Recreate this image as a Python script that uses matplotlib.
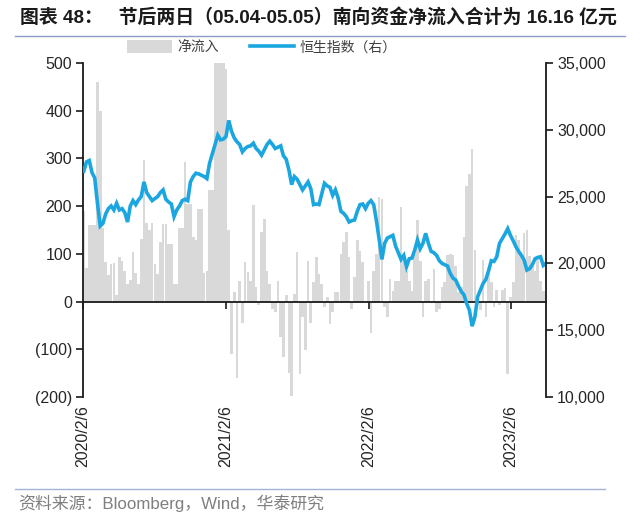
import matplotlib
matplotlib.use("Agg")
import matplotlib.pyplot as plt
import matplotlib.transforms as mtransforms
from matplotlib.patches import Patch
from matplotlib.lines import Line2D
import pandas as pd
import numpy as np

plt.rcParams['font.family'] = ['Liberation Sans', 'Noto Sans CJK SC', 'DejaVu Sans']

title = "图表 48：   节后两日（05.04-05.05）南向资金净流入合计为 16.16 亿元"
source = "资料来源：Bloomberg，Wind，华泰研究"
bar_label = "净流入"
line_label = "恒生指数（右）"

net_inflow = [190, 70, 160, 160, 160, 460, 400, 155, 83, 55,
              79, 80, 13, 93, 85, 65, 37, 45, 104, 60,
              37, 132, 297, 164, 150, 165, 79, 58, 125, 163,
              163, 120, 120, 37, 37, 155, 155, 293, 205, 205,
              135, 128, 195, 195, 60, 65, 233, 233, 600, 700,
              650, 560, 488, 150, -110, 20, -160, 44, -44, 83,
              62, 44, 202, 30, -8, 146, 174, 65, 37, -15,
              -22, 44, -75, -117, 13, -149, -198, 16, 104, -152,
              -33, -102, 86, -44, 41, 93, 58, 37, -12, 9,
              -47, -22, 20, 20, 100, 125, 146, 93, -15, 51,
              128, 107, 83, 2, 44, -65, 65, 100, 220, 216,
              -12, -33, 48, 23, 44, 44, 199, 86, 65, 44,
              23, 100, 170, 86, -33, 44, 48, 2, 69, -22,
              -15, 30, 41, 97, 100, 97, 74, 21, 30, 135,
              242, 267, 320, 109, -8, -18, 88, -32, 67, 42,
              -11, 25, -8, 25, 28, -151, 9, 42, 140, 128,
              95, 144, 150, 95, 77, 65, 90, 44, 23, 16]

hsi = [26900, 27600, 27700, 26800, 26400, 24500, 22800, 23000, 23700, 24100,
       24300, 24000, 24500, 24000, 24100, 23800, 23100, 24300, 24700, 24400,
       24750, 25000, 26100, 25300, 25000, 24700, 24850, 25000, 25300, 25500,
       24800, 24600, 24450, 23500, 24000, 24300, 24700, 24800, 24700, 26100,
       26500, 26750, 26700, 26600, 26500, 26350, 27500, 28200, 28900, 29600,
       29250, 29300, 29500, 30700, 29900, 29400, 29100, 28900, 28350, 28600,
       28750, 28800, 29000, 28600, 28400, 28100, 28500, 28900, 29150, 28900,
       28600, 28700, 28800, 28050, 27800, 27000, 25900, 26500, 26300, 25900,
       25500, 25800, 26100, 25600, 24400, 24450, 24400, 25200, 26000, 25800,
       25700, 25100, 25500, 24900, 23900, 23750, 23500, 23100, 23200, 23250,
       23900, 24400, 24450, 24100, 24500, 24700, 24400, 23200, 21800, 20300,
       21500, 21900, 22000, 22100, 21300, 20800, 20300, 20600, 19750, 20350,
       20400, 21000, 21750, 21100, 21500, 22250, 21500, 20900, 20800, 20600,
       20200, 20000, 19900, 19800, 19250, 18900, 18750, 18300, 17900, 17650,
       17000, 16500, 15300, 16000, 17500, 18000, 18500, 18800, 19450, 20200,
       20150, 20500, 21500, 21850, 22200, 22600, 22100, 21700, 21250, 20900,
       20600, 20250, 19500, 19600, 19900, 20350, 20450, 20500, 19850, 20000]

tick_dates = ["2020-02-06", "2021-02-06", "2022-02-06", "2023-02-06"]
tick_labels = ["2020/2/6", "2021/2/6", "2022/2/6", "2023/2/6"]
left_ticks = [-200, -100, 0, 100, 200, 300, 400, 500]
left_labels = ["(200)", "(100)", "0", "100", "200", "300", "400", "500"]
right_ticks = [10000, 15000, 20000, 25000, 30000, 35000]

dates = pd.date_range("2020-02-08", periods=len(net_inflow), freq="7D")

fig = plt.figure(figsize=(6.4, 5.28), dpi=100)
W, H = 640, 528
ax = fig.add_axes([83 / W, 1 - 397 / H, (546 - 83) / W, (397 - 63) / H])
ax2 = ax.twinx()
ax.set_zorder(1)
ax2.set_zorder(2)
ax.patch.set_visible(False)

ax.bar(dates, net_inflow, width=6.8, color="#d9d9d9", linewidth=0, zorder=1)
ax.set_ylim(-200, 500)
ax.set_xlim(pd.Timestamp("2020-02-06"), pd.Timestamp("2023-05-06"))

ax2.plot(dates, hsi, color="#1ba6e0", linewidth=2.6, solid_joinstyle="miter")
ax2.set_ylim(10000, 35000)

for a in (ax, ax2):
    a.spines['top'].set_visible(False)
ax.spines['right'].set_visible(False)
ax2.spines['left'].set_visible(False)
ax2.spines['bottom'].set_visible(False)
ax.spines['bottom'].set_position(('data', 0))
for sp in ['left', 'bottom']:
    ax.spines[sp].set_color('#1a1a1a')
    ax.spines[sp].set_linewidth(1.3)
ax2.spines['right'].set_color('#1a1a1a')
ax2.spines['right'].set_linewidth(1.3)

ax.set_yticks(left_ticks)
ax.set_yticklabels(left_labels)
ax.tick_params(axis='y', direction='out', length=5, width=1.2, colors='#1a1a1a',
               labelsize=11.5, labelcolor='#262626', pad=3)
ax2.set_yticks(right_ticks)
ax2.set_yticklabels([f"{v:,}" for v in right_ticks])
ax2.tick_params(axis='y', direction='out', length=5, width=1.2, colors='#1a1a1a',
                labelsize=11.5, labelcolor='#262626', pad=3)

tds = [pd.Timestamp(d) for d in tick_dates]
ax.set_xticks(tds)
ax.tick_params(axis='x', direction='out', length=5, width=1.2, colors='#1a1a1a',
               labelbottom=False)
trans = mtransforms.blended_transform_factory(ax.transData, ax.transAxes)
for d, lab in zip(tds, tick_labels):
    ax.text(d, -0.025, lab, transform=trans, rotation=90, ha='center', va='top',
            fontsize=11.5, color='#262626')

fig.text(20 / W, 1 - 17 / H, title, fontsize=13.6, fontweight='bold', color='#1a1a1a',
         ha='left', va='center')
fig.add_artist(Line2D([15 / W, 625 / W], [1 - 36 / H, 1 - 36 / H], color='#8c9cc8', linewidth=1.0))

handles = [Patch(facecolor='#d9d9d9', edgecolor='none', label=bar_label),
           Line2D([0], [0], color='#1ba6e0', linewidth=2.6, label=line_label)]
fig.legend(handles=handles, loc='center', bbox_to_anchor=(262 / W, 1 - 47 / H), ncol=2,
           frameon=False, fontsize=10, handlelength=3.2, handleheight=1.1,
           columnspacing=2.2, handletextpad=0.4, labelcolor='#404040')

fig.add_artist(Line2D([15 / W, 605 / W], [1 - 489 / H, 1 - 489 / H], color='#a8b2d8', linewidth=1.0))
fig.text(18 / W, 1 - 503 / H, source, fontsize=12.2, color='#7f7f7f', ha='left', va='center')

fig.savefig("out.png", dpi=100)
